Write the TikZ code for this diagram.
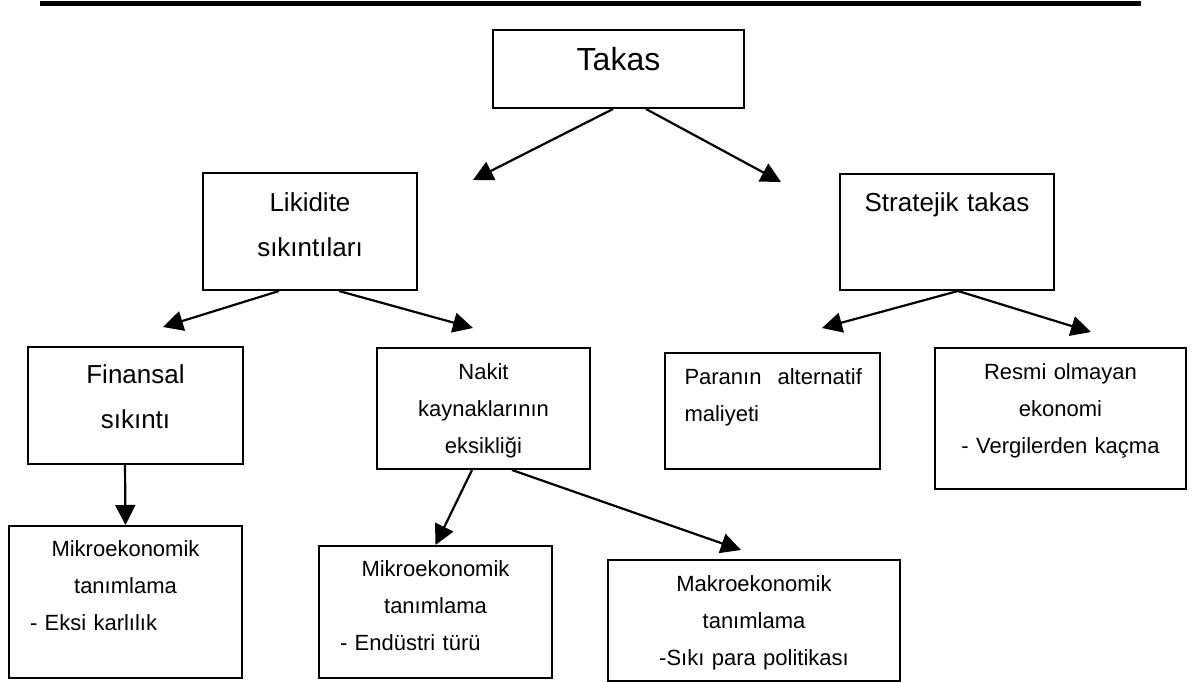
\documentclass[tikz,border=0pt]{standalone}
\usepackage{fontspec}
\setmainfont{Liberation Sans}
\usetikzlibrary{arrows.meta}

\begin{document}
\begin{tikzpicture}[x=1pt,y=-1pt,
  box/.style={draw,line width=2pt,anchor=north west,align=center,inner xsep=0pt,inner ysep=0pt},
  big/.style={font=\fontsize{26}{45.5}\selectfont},
  small/.style={font=\fontsize{22}{37}\selectfont},
  arr/.style={-{Triangle[length=20pt,width=20pt]},line width=2.2pt}]
\useasboundingbox (0,0) rectangle (1194,682);
\draw[line width=5pt] (40,4) -- (1141,4);
\node[box,font=\fontsize{32}{38}\selectfont,text width=251pt,text height=41pt,text depth=37pt] (tak) at (492,29) {Takas};
\node[box,big,text width=214pt,text height=38pt,text depth=79pt] (lik) at (202,172) {Likidite\\sıkıntıları};
\node[box,big,text width=214pt,text height=37pt,text depth=79pt] (str) at (839,173) {Stratejik takas};
\node[box,big,text width=215pt,text height=36pt,text depth=81pt] (fin) at (27,346) {Finansal\\sıkıntı};
\node[box,small,text width=213pt,text height=31pt,text depth=90pt] (nak) at (376,347) {Nakit\\kaynaklarının\\eksikliği};
\node[box,small,align=left,inner xsep=19.5pt,text width=176pt,text height=31pt,text depth=85pt] (par) at (664,352) {\mbox{Paranın\hspace{16pt}alternatif}\\maliyeti};
\node[box,small,text width=251pt,text height=31pt,text depth=110pt] (res) at (934,347) {Resmi olmayan\\ekonomi\\- Vergilerden kaçma};
\node[box,small,text width=233pt,text height=30pt,text depth=122pt] (mk1) at (8,525) {Mikroekonomik\\tanımlama\\\makebox[233pt][l]{\hspace*{21pt}- Eksi karlılık}};
\node[box,small,text width=233pt,text height=30pt,text depth=102pt] (mk2) at (318,545) {Mikroekonomik\\tanımlama\\\makebox[233pt][l]{\hspace*{21pt}- Endüstri türü}};
\node[box,small,text width=292pt,text height=31pt,text depth=90pt] (mak) at (607,559) {Makroekonomik\\tanımlama\\-Sıkı para politikası};
\coordinate (hl) at (473,180);
\coordinate (hs) at (781,182);
\coordinate (hf) at (163,327);
\coordinate (hn) at (473,328);
\coordinate (hp) at (822,328);
\coordinate (hr) at (1091,332);
\coordinate (hm) at (741,550);
\draw[arr] ([xshift=-5.5pt]tak.south) -- (hl);
\draw[arr] ([xshift=27.5pt]tak.south) -- (hs);
\draw[arr] ([xshift=-31pt]lik.south) -- (hf);
\draw[arr] ([xshift=29pt]lik.south) -- (hn);
\draw[arr] ([xshift=11pt]str.south) -- (hp);
\draw[arr] ([xshift=11pt]str.south) -- (hr);
\draw[arr] ([xshift=-10.5pt]fin.south) -- (mk1.north);
\draw[arr] ([xshift=-11.5pt]nak.south) -- (mk2.north);
\draw[arr] ([xshift=28.5pt]nak.south) -- (hm);
\end{tikzpicture}
\end{document}
